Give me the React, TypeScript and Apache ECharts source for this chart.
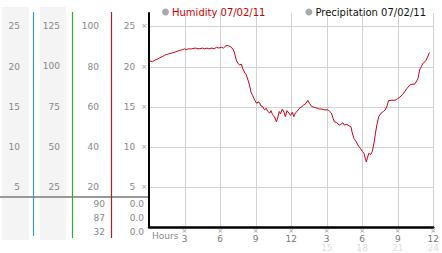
import React, { useEffect, useRef } from "react";
import * as echarts from "echarts";

const humidity: [number, number][] = [
  [0.0, 20.5], [0.08, 20.7], [0.3, 20.6], [0.5, 20.8], [0.7, 20.9], [0.91, 21.1], [1.1, 21.2], [1.3, 21.4],
  [1.5, 21.5], [1.7, 21.6], [1.99, 21.7], [2.2, 21.8], [2.4, 21.9], [2.6, 22.0], [2.81, 22.1], [3.0, 22.2],
  [3.15, 22.1], [3.3, 22.2], [3.6, 22.2], [3.9, 22.3], [4.22, 22.2], [4.5, 22.3], [4.7, 22.2], [4.9, 22.3],
  [5.05, 22.2], [5.3, 22.3], [5.5, 22.2], [5.7, 22.4], [5.9, 22.3], [6.1, 22.4], [6.29, 22.3], [6.5, 22.6],
  [6.71, 22.6], [6.95, 22.4], [7.1, 22.1], [7.2, 21.8], [7.37, 20.8], [7.5, 20.4], [7.67, 20.2], [7.8, 20.3],
  [7.9, 19.8], [8.09, 19.2], [8.2, 19.0], [8.36, 18.3], [8.5, 17.6], [8.61, 16.8], [8.75, 16.4], [8.92, 15.8],
  [9.1, 15.4], [9.2, 15.6], [9.33, 15.5], [9.45, 15.1], [9.6, 15.0], [9.75, 14.6], [9.9, 14.8], [10.02, 14.4],
  [10.2, 14.2], [10.3, 14.5], [10.43, 14.0], [10.6, 13.7], [10.76, 13.1], [10.9, 13.8], [10.99, 14.4],
  [11.1, 14.1], [11.26, 14.7], [11.4, 14.3], [11.51, 13.75], [11.65, 14.5], [11.81, 14.2], [11.95, 13.9],
  [12.1, 14.3], [12.23, 13.75], [12.35, 14.2], [12.5, 14.4], [12.7, 14.8], [12.9, 15.0], [13.05, 15.2],
  [13.25, 15.4], [13.41, 15.8], [13.55, 15.4], [13.74, 15.0], [14.0, 14.9], [14.2, 14.8], [14.4, 14.7],
  [14.6, 14.7], [14.8, 14.6], [15.12, 14.6], [15.25, 14.4], [15.4, 14.2], [15.55, 13.5], [15.65, 13.1],
  [15.85, 13.0], [16.06, 12.7], [16.2, 12.8], [16.37, 13.0], [16.5, 12.7], [16.7, 12.8], [16.9, 12.6],
  [17.05, 12.5], [17.15, 11.8], [17.3, 11.05], [17.5, 10.6], [17.72, 10.0], [17.85, 9.8], [18.02, 9.4],
  [18.15, 9.2], [18.25, 8.6], [18.35, 8.1], [18.45, 8.7], [18.57, 9.2], [18.7, 9.0], [18.85, 9.4],
  [19.0, 10.5], [19.12, 11.7], [19.25, 12.8], [19.4, 13.75], [19.6, 14.2], [19.8, 14.4], [19.95, 14.6],
  [20.1, 15.1], [20.22, 15.75], [20.5, 15.8], [20.78, 15.8], [21.0, 16.0], [21.19, 16.2], [21.4, 16.5],
  [21.6, 16.9], [21.8, 17.3], [22.02, 17.7], [22.2, 17.8], [22.43, 17.8], [22.6, 18.2], [22.71, 18.5],
  [22.85, 19.6], [23.0, 20.0], [23.12, 20.4], [23.3, 20.6], [23.4, 20.8], [23.55, 21.3], [23.68, 21.75],
];
const precipitation: [number, number][] = [];

const legendNames = ["Humidity 07/02/11", "Precipitation 07/02/11"];
const hourGridValues = [3, 6, 9, 12, 15, 18, 21, 24];
const valueGridValues = [5, 10, 15, 20, 25];
const bottomRowValues = ["90", "87", "32"];
const bottomRowPrecip = ["0.0", "0.0", "0.0"];

const FONT = "DejaVu Sans";
const GRID = "#d2d2d2";
const Y_MAX = 26.67;

export default function App() {
  const ref = useRef<HTMLDivElement>(null);
  useEffect(() => {
    document.body.style.margin = "0";
    const chart = echarts.init(ref.current!, undefined, { renderer: "svg" });
    const sideAxis = (max: number, interval: number, offset: number, margin: number) => ({
      type: "value",
      position: "left",
      min: 0,
      max,
      interval,
      offset,
      axisLine: { show: false },
      axisTick: { show: false },
      splitLine: { show: false },
      axisLabel: {
        margin,
        color: "#888",
        fontFamily: FONT,
        fontSize: 9,
        showMaxLabel: false,
        formatter: (v: number) => (v === 0 || v % interval !== 0 ? "" : String(v)),
      },
    });
    const rowY = [204, 218, 232];
    const baseGraphic: any[] = [
      { type: "rect", z: -10, shape: { x: 2, y: 7, width: 27, height: 233 }, style: { fill: "#f4f4f4" } },
      { type: "rect", z: -10, shape: { x: 40, y: 7, width: 26, height: 233 }, style: { fill: "#f4f4f4" } },
      { type: "line", shape: { x1: 0, y1: 197, x2: 149, y2: 197 }, style: { stroke: "#999", lineWidth: 2 } },
      { type: "line", shape: { x1: 33.5, y1: 12, x2: 33.5, y2: 236 }, style: { stroke: "#3399cc", lineWidth: 1.2 } },
      { type: "line", shape: { x1: 72.5, y1: 12, x2: 72.5, y2: 238 }, style: { stroke: "#33aa33", lineWidth: 1.2 } },
      { type: "line", shape: { x1: 111.5, y1: 12, x2: 111.5, y2: 238 }, style: { stroke: "#aa2222", lineWidth: 1.2 } },
      ...bottomRowValues.map((t, i) => ({
        type: "text",
        x: 105,
        y: rowY[i],
        style: { text: t, fill: "#888", font: `9px '${FONT}'`, textAlign: "right", textVerticalAlign: "middle" },
      })),
      ...bottomRowPrecip.map((t, i) => ({
        type: "text",
        x: 144,
        y: rowY[i],
        style: { text: t, fill: "#888", font: `9px '${FONT}'`, textAlign: "right", textVerticalAlign: "middle" },
      })),
      {
        type: "text",
        x: 152,
        y: 236,
        style: { text: "Hours", fill: "#888", font: `9px '${FONT}'`, textAlign: "left", textVerticalAlign: "middle" },
      },
    ];
    chart.setOption({
      animation: false,
      textStyle: { fontFamily: FONT },
      legend: {
        left: 157,
        top: 2,
        itemWidth: 7,
        itemHeight: 7,
        itemGap: 40,
        icon: "circle",
        textStyle: { fontFamily: FONT, fontSize: 10, padding: [0, 0, 0, -2] },
        data: [
          { name: legendNames[0], itemStyle: { color: "#aaa" }, textStyle: { color: "#cc0000" } },
          { name: legendNames[1], itemStyle: { color: "#aaa" }, textStyle: { color: "#111" } },
        ],
      },
      grid: { left: 149, top: 13, right: 3, bottom: 26, containLabel: false },
      xAxis: {
        type: "value",
        min: 0,
        max: 24,
        interval: 3,
        z: 5,
        axisLine: { show: true, lineStyle: { color: "#000", width: 2.5 } },
        axisTick: { show: false },
        splitLine: { show: false },
        axisLabel: {
          margin: 1,
          showMinLabel: false,
          formatter: (v: number) => {
            if (v === 0) return "";
            const h = v <= 12 ? v : v - 12;
            const second = v > 12 ? `{f|${v}}` : `{f| }`;
            return `{m|×}\n{n|${h}}\n${second}`;
          },
          rich: {
            m: { fontSize: 7, lineHeight: 6, color: "#999", fontFamily: FONT },
            n: { fontSize: 9, lineHeight: 9, color: "#777", fontFamily: FONT },
            f: { fontSize: 9, lineHeight: 9, color: "#ddd", fontFamily: FONT },
          },
        },
      },
      yAxis: [
        {
          type: "value",
          min: 0,
          max: Y_MAX,
          interval: 5,
          z: 5,
          axisLine: { show: true, lineStyle: { color: "#000", width: 2 } },
          axisTick: { show: false },
          splitLine: { show: false },
          axisLabel: {
            margin: 2,
            showMaxLabel: false,
            formatter: (v: number) => (v === 0 || v % 5 !== 0 ? "" : `{n|${v}}{m|×}`),
            rich: {
              n: { fontSize: 9, color: "#888", fontFamily: FONT },
              m: { fontSize: 7, color: "#999", fontFamily: FONT, padding: [0, 0, 0, 6] },
            },
          },
        },
        sideAxis(106.67, 20, 38, 12),
        sideAxis(133.33, 25, 77, 12),
        sideAxis(Y_MAX, 5, 116, 13),
      ],
      graphic: baseGraphic,
      series: [
        {
          name: legendNames[1],
          type: "line",
          data: precipitation,
          showSymbol: false,
          symbol: "none",
          itemStyle: { color: "#3399cc" },
        },
        {
          name: legendNames[0],
          type: "line",
          data: humidity,
          z: 3,
          showSymbol: false,
          symbol: "none",
          lineStyle: { color: "#cc0011", width: 1 },
          itemStyle: { color: "#cc0011" },
        },
      ],
    });

    // Gridlines positioned through the library's own scales
    const px = (v: number) => chart.convertToPixel({ xAxisIndex: 0 }, v) as number;
    const py = (v: number) => chart.convertToPixel({ yAxisIndex: 0 }, v) as number;
    const xLeft = px(0);
    const xRight = px(24);
    const yTop = py(Y_MAX);
    const yBottom = py(0);
    const gridGraphic = [
      ...hourGridValues.map((v) => {
        const x = Math.round(px(v)) + 0.5;
        return {
          type: "line",
          z: 1,
          silent: true,
          shape: { x1: x, y1: yTop, x2: x, y2: yBottom },
          style: { stroke: GRID, lineWidth: 1 },
        };
      }),
      ...valueGridValues.map((v) => {
        const y = Math.round(py(v)) + 0.5;
        return {
          type: "line",
          z: 1,
          silent: true,
          shape: { x1: xLeft, y1: y, x2: xRight, y2: y },
          style: { stroke: GRID, lineWidth: 1 },
        };
      }),
    ];
    chart.setOption({ graphic: [...baseGraphic, ...gridGraphic] });
    return () => chart.dispose();
  }, []);
  return <div ref={ref} style={{ width: 442, height: 253 }} />;
}
